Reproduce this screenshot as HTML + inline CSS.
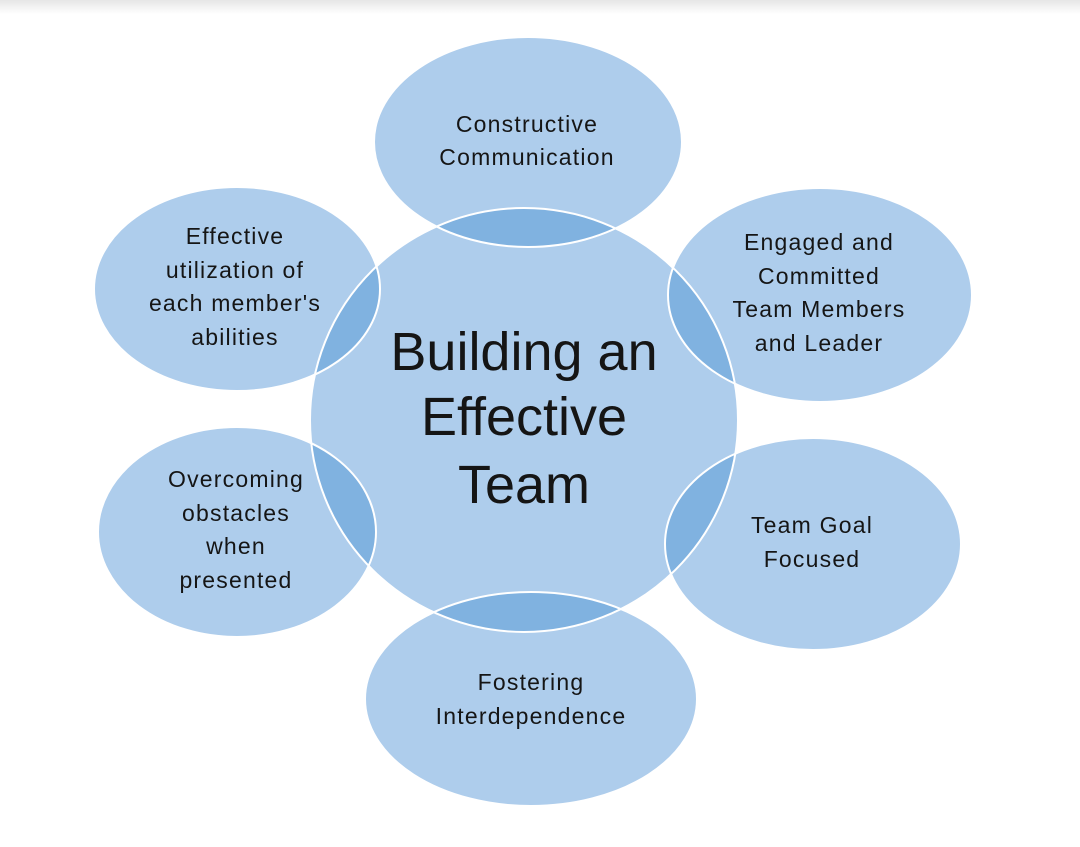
<!DOCTYPE html>
<html><head><style>
html,body{margin:0;padding:0;background:#fff;width:1080px;height:847px;overflow:hidden}
svg{display:block}
text{font-family:"Liberation Sans",sans-serif;fill:#151515;text-anchor:middle}
.s{font-size:23px;letter-spacing:1.2px}
.c{font-size:54px}
</style></head><body>
<svg width="1080" height="847" viewBox="0 0 1080 847">
<defs>
<linearGradient id="g" x1="0" y1="0" x2="0" y2="1">
<stop offset="0" stop-color="#e6e6e6"/><stop offset="1" stop-color="#ffffff"/>
</linearGradient>
<clipPath id="cc"><ellipse cx="524" cy="420" rx="214" ry="212"/></clipPath>
</defs>
<rect x="0" y="0" width="1080" height="14" fill="url(#g)"/>
<g fill="#aecdec">
<ellipse cx="524" cy="420" rx="214" ry="212"/>
<ellipse cx="528" cy="142" rx="154" ry="105"/>
<ellipse cx="237" cy="289" rx="143" ry="102"/>
<ellipse cx="820" cy="295" rx="152" ry="107"/>
<ellipse cx="237" cy="532" rx="139" ry="105"/>
<ellipse cx="813" cy="544" rx="148" ry="106"/>
<ellipse cx="531" cy="699" rx="166" ry="107"/>
</g>
<g fill="#80b2e0" clip-path="url(#cc)">
<ellipse cx="528" cy="142" rx="154" ry="105"/>
<ellipse cx="237" cy="289" rx="143" ry="102"/>
<ellipse cx="820" cy="295" rx="152" ry="107"/>
<ellipse cx="237" cy="532" rx="139" ry="105"/>
<ellipse cx="813" cy="544" rx="148" ry="106"/>
<ellipse cx="531" cy="699" rx="166" ry="107"/>
</g>
<g fill="none" stroke="#fff" stroke-width="2">
<ellipse cx="524" cy="420" rx="214" ry="212"/>
<ellipse cx="528" cy="142" rx="154" ry="105"/>
<ellipse cx="237" cy="289" rx="143" ry="102"/>
<ellipse cx="820" cy="295" rx="152" ry="107"/>
<ellipse cx="237" cy="532" rx="139" ry="105"/>
<ellipse cx="813" cy="544" rx="148" ry="106"/>
<ellipse cx="531" cy="699" rx="166" ry="107"/>
</g>
<text class="c" x="524" y="370">Building an</text>
<text class="c" x="524" y="435">Effective</text>
<text class="c" x="524" y="503">Team</text>
<text class="s" x="527" y="132">Constructive</text>
<text class="s" x="527" y="165">Communication</text>
<text class="s" x="235" y="244">Effective</text>
<text class="s" x="235" y="278">utilization of</text>
<text class="s" x="235" y="311">each member's</text>
<text class="s" x="235" y="345">abilities</text>
<text class="s" x="819" y="250">Engaged and</text>
<text class="s" x="819" y="284">Committed</text>
<text class="s" x="819" y="317">Team Members</text>
<text class="s" x="819" y="351">and Leader</text>
<text class="s" x="236" y="487">Overcoming</text>
<text class="s" x="236" y="521">obstacles</text>
<text class="s" x="236" y="554">when</text>
<text class="s" x="236" y="588">presented</text>
<text class="s" x="812" y="533">Team Goal</text>
<text class="s" x="812" y="567">Focused</text>
<text class="s" x="531" y="690">Fostering</text>
<text class="s" x="531" y="724">Interdependence</text>
</svg>
</body></html>
